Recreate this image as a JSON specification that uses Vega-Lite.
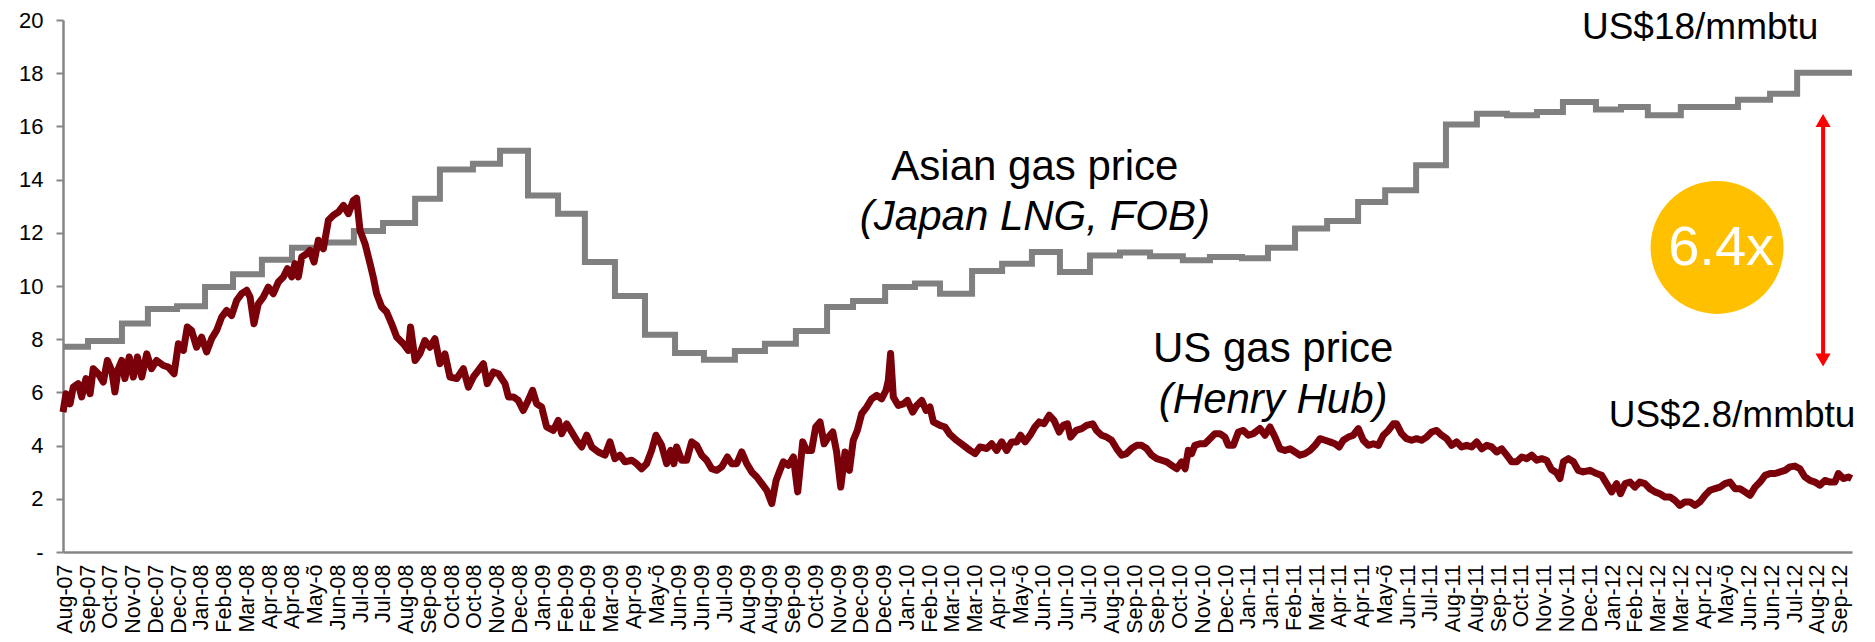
{
  "$schema": "https://vega.github.io/schema/vega-lite/v6.json",
  "width": 1789,
  "height": 532,
  "autosize": {"type": "none"},
  "padding": {"left": 63, "top": 20, "right": 23, "bottom": 90},
  "background": "white",
  "config": {
    "view": {"stroke": null},
    "font": "Liberation Sans",
    "axis": {"grid": false, "title": null, "labelFont": "Liberation Sans", "labelColor": "#000000", "domainColor": "#868686", "tickColor": "#868686"}
  },
  "datasets": {
    "asian": [
      {"t": -0.1, "v": 7.72}, {"t": 1.0, "v": 7.93}, {"t": 2.49, "v": 8.59}, {"t": 3.63, "v": 9.14}, {"t": 4.91, "v": 9.24},
      {"t": 6.14, "v": 9.96}, {"t": 7.37, "v": 10.44}, {"t": 8.64, "v": 10.99}, {"t": 9.96, "v": 11.44}, {"t": 11.32, "v": 11.64},
      {"t": 12.68, "v": 12.07}, {"t": 13.96, "v": 12.37}, {"t": 15.37, "v": 13.28}, {"t": 16.46, "v": 14.38}, {"t": 17.91, "v": 14.6},
      {"t": 19.1, "v": 15.08}, {"t": 20.33, "v": 13.4}, {"t": 21.65, "v": 12.72}, {"t": 22.83, "v": 10.9}, {"t": 24.15, "v": 9.62},
      {"t": 25.47, "v": 8.17}, {"t": 26.79, "v": 7.48}, {"t": 28.06, "v": 7.23}, {"t": 29.42, "v": 7.56}, {"t": 30.74, "v": 7.83},
      {"t": 32.1, "v": 8.31}, {"t": 33.47, "v": 9.21}, {"t": 34.61, "v": 9.44}, {"t": 36.02, "v": 9.96}, {"t": 37.33, "v": 10.09},
      {"t": 38.43, "v": 9.71}, {"t": 39.84, "v": 10.56}, {"t": 41.16, "v": 10.84}, {"t": 42.47, "v": 11.28}, {"t": 43.7, "v": 10.53},
      {"t": 45.02, "v": 11.15}, {"t": 46.34, "v": 11.26}, {"t": 47.66, "v": 11.12}, {"t": 49.1, "v": 10.97}, {"t": 50.29, "v": 11.09},
      {"t": 51.7, "v": 11.04}, {"t": 52.84, "v": 11.44}, {"t": 54.03, "v": 12.16}, {"t": 55.44, "v": 12.44}, {"t": 56.8, "v": 13.16},
      {"t": 57.99, "v": 13.6}, {"t": 59.35, "v": 14.54}, {"t": 60.66, "v": 16.07}, {"t": 62.02, "v": 16.48}, {"t": 63.34, "v": 16.42},
      {"t": 64.66, "v": 16.54}, {"t": 65.8, "v": 16.92}, {"t": 67.25, "v": 16.64}, {"t": 68.35, "v": 16.73}, {"t": 69.53, "v": 16.42},
      {"t": 70.98, "v": 16.73}, {"t": 73.49, "v": 17.0}, {"t": 74.9, "v": 17.23}, {"t": 76.09, "v": 18.02}, {"t": 78.5, "v": 18.02}
    ],
    "us": [
      {"t": -0.1, "v": 5.26}, {"t": 0.03, "v": 5.95}, {"t": 0.21, "v": 5.57}, {"t": 0.35, "v": 6.2}, {"t": 0.57, "v": 6.33},
      {"t": 0.72, "v": 5.83}, {"t": 0.91, "v": 6.52}, {"t": 1.09, "v": 5.95}, {"t": 1.23, "v": 6.89}, {"t": 1.45, "v": 6.7},
      {"t": 1.67, "v": 6.39}, {"t": 1.85, "v": 7.2}, {"t": 2.04, "v": 6.83}, {"t": 2.18, "v": 6.02}, {"t": 2.33, "v": 6.89},
      {"t": 2.48, "v": 7.2}, {"t": 2.62, "v": 6.52}, {"t": 2.81, "v": 7.33}, {"t": 2.99, "v": 6.58}, {"t": 3.17, "v": 7.33},
      {"t": 3.36, "v": 6.58}, {"t": 3.58, "v": 7.45}, {"t": 3.79, "v": 6.89}, {"t": 4.01, "v": 7.2}, {"t": 4.31, "v": 7.01},
      {"t": 4.53, "v": 6.95}, {"t": 4.78, "v": 6.7}, {"t": 4.97, "v": 7.83}, {"t": 5.19, "v": 7.58}, {"t": 5.36, "v": 8.46},
      {"t": 5.55, "v": 8.33}, {"t": 5.77, "v": 7.7}, {"t": 5.99, "v": 8.08}, {"t": 6.21, "v": 7.52}, {"t": 6.43, "v": 8.02},
      {"t": 6.65, "v": 8.33}, {"t": 6.87, "v": 8.83}, {"t": 7.09, "v": 9.08}, {"t": 7.31, "v": 8.89}, {"t": 7.53, "v": 9.46},
      {"t": 7.75, "v": 9.71}, {"t": 7.97, "v": 9.84}, {"t": 8.12, "v": 9.58}, {"t": 8.29, "v": 8.58}, {"t": 8.48, "v": 9.33},
      {"t": 8.7, "v": 9.58}, {"t": 8.92, "v": 9.96}, {"t": 9.14, "v": 9.71}, {"t": 9.36, "v": 10.15}, {"t": 9.58, "v": 10.34},
      {"t": 9.76, "v": 10.65}, {"t": 9.95, "v": 10.34}, {"t": 10.09, "v": 10.84}, {"t": 10.24, "v": 10.34}, {"t": 10.39, "v": 11.09},
      {"t": 10.61, "v": 11.21}, {"t": 10.75, "v": 11.34}, {"t": 10.93, "v": 10.9}, {"t": 11.12, "v": 11.72}, {"t": 11.34, "v": 11.4},
      {"t": 11.56, "v": 12.47}, {"t": 11.78, "v": 12.66}, {"t": 12.0, "v": 12.78}, {"t": 12.22, "v": 13.03}, {"t": 12.44, "v": 12.72},
      {"t": 12.66, "v": 13.22}, {"t": 12.8, "v": 13.3}, {"t": 12.95, "v": 12.09}, {"t": 13.17, "v": 11.59}, {"t": 13.39, "v": 10.84},
      {"t": 13.53, "v": 10.34}, {"t": 13.68, "v": 9.71}, {"t": 13.9, "v": 9.21}, {"t": 14.12, "v": 9.02}, {"t": 14.34, "v": 8.58},
      {"t": 14.56, "v": 8.08}, {"t": 14.85, "v": 7.83}, {"t": 15.07, "v": 7.58}, {"t": 15.17, "v": 8.46}, {"t": 15.37, "v": 7.2},
      {"t": 15.58, "v": 7.45}, {"t": 15.8, "v": 7.95}, {"t": 16.02, "v": 7.7}, {"t": 16.24, "v": 8.02}, {"t": 16.46, "v": 7.08},
      {"t": 16.68, "v": 7.45}, {"t": 16.9, "v": 6.58}, {"t": 17.2, "v": 6.52}, {"t": 17.49, "v": 6.89}, {"t": 17.71, "v": 6.2},
      {"t": 17.93, "v": 6.58}, {"t": 18.15, "v": 6.83}, {"t": 18.37, "v": 7.08}, {"t": 18.54, "v": 6.33}, {"t": 18.81, "v": 6.77},
      {"t": 19.03, "v": 6.7}, {"t": 19.32, "v": 6.33}, {"t": 19.47, "v": 5.83}, {"t": 19.69, "v": 5.83}, {"t": 19.9, "v": 5.7},
      {"t": 20.12, "v": 5.32}, {"t": 20.34, "v": 5.7}, {"t": 20.53, "v": 6.08}, {"t": 20.71, "v": 5.57}, {"t": 20.93, "v": 5.45},
      {"t": 21.15, "v": 4.7}, {"t": 21.44, "v": 4.57}, {"t": 21.66, "v": 4.95}, {"t": 21.81, "v": 4.45}, {"t": 22.03, "v": 4.82},
      {"t": 22.25, "v": 4.51}, {"t": 22.47, "v": 4.2}, {"t": 22.69, "v": 3.95}, {"t": 22.91, "v": 4.39}, {"t": 23.13, "v": 3.95},
      {"t": 23.42, "v": 3.76}, {"t": 23.71, "v": 3.64}, {"t": 23.93, "v": 4.14}, {"t": 24.15, "v": 3.51}, {"t": 24.37, "v": 3.64},
      {"t": 24.59, "v": 3.39}, {"t": 24.88, "v": 3.45}, {"t": 25.1, "v": 3.32}, {"t": 25.32, "v": 3.13}, {"t": 25.54, "v": 3.32},
      {"t": 25.76, "v": 3.82}, {"t": 25.95, "v": 4.39}, {"t": 26.2, "v": 4.01}, {"t": 26.42, "v": 3.32}, {"t": 26.6, "v": 3.82},
      {"t": 26.74, "v": 3.32}, {"t": 26.86, "v": 3.95}, {"t": 27.08, "v": 3.45}, {"t": 27.3, "v": 3.45}, {"t": 27.52, "v": 4.14},
      {"t": 27.74, "v": 4.01}, {"t": 27.96, "v": 3.64}, {"t": 28.18, "v": 3.45}, {"t": 28.4, "v": 3.13}, {"t": 28.62, "v": 3.07},
      {"t": 28.84, "v": 3.2}, {"t": 29.09, "v": 3.57}, {"t": 29.28, "v": 3.32}, {"t": 29.5, "v": 3.32}, {"t": 29.72, "v": 3.76},
      {"t": 29.94, "v": 3.32}, {"t": 30.16, "v": 3.01}, {"t": 30.38, "v": 2.82}, {"t": 30.6, "v": 2.57}, {"t": 30.82, "v": 2.32},
      {"t": 31.04, "v": 1.82}, {"t": 31.23, "v": 2.69}, {"t": 31.4, "v": 3.07}, {"t": 31.55, "v": 3.39}, {"t": 31.77, "v": 3.26},
      {"t": 31.99, "v": 3.57}, {"t": 32.18, "v": 2.26}, {"t": 32.4, "v": 4.14}, {"t": 32.57, "v": 3.82}, {"t": 32.79, "v": 3.82},
      {"t": 32.97, "v": 4.7}, {"t": 33.16, "v": 4.89}, {"t": 33.34, "v": 4.07}, {"t": 33.53, "v": 4.32}, {"t": 33.72, "v": 4.51},
      {"t": 33.89, "v": 3.76}, {"t": 34.07, "v": 2.44}, {"t": 34.26, "v": 3.76}, {"t": 34.45, "v": 3.07}, {"t": 34.62, "v": 4.2},
      {"t": 34.8, "v": 4.57}, {"t": 34.99, "v": 5.2}, {"t": 35.21, "v": 5.45}, {"t": 35.43, "v": 5.76}, {"t": 35.65, "v": 5.89},
      {"t": 35.87, "v": 5.76}, {"t": 36.06, "v": 6.08}, {"t": 36.16, "v": 6.45}, {"t": 36.26, "v": 7.46}, {"t": 36.38, "v": 5.83},
      {"t": 36.6, "v": 5.51}, {"t": 36.82, "v": 5.57}, {"t": 37.0, "v": 5.7}, {"t": 37.23, "v": 5.26}, {"t": 37.41, "v": 5.51},
      {"t": 37.63, "v": 5.7}, {"t": 37.82, "v": 5.32}, {"t": 37.99, "v": 5.45}, {"t": 38.14, "v": 4.89}, {"t": 38.43, "v": 4.76},
      {"t": 38.65, "v": 4.7}, {"t": 38.87, "v": 4.42}, {"t": 39.16, "v": 4.2}, {"t": 39.46, "v": 4.01}, {"t": 39.75, "v": 3.82},
      {"t": 39.97, "v": 3.7}, {"t": 40.19, "v": 3.95}, {"t": 40.48, "v": 3.89}, {"t": 40.7, "v": 4.07}, {"t": 40.92, "v": 3.82},
      {"t": 41.14, "v": 4.14}, {"t": 41.36, "v": 3.82}, {"t": 41.58, "v": 4.14}, {"t": 41.8, "v": 4.14}, {"t": 41.97, "v": 4.39},
      {"t": 42.17, "v": 4.14}, {"t": 42.39, "v": 4.39}, {"t": 42.6, "v": 4.7}, {"t": 42.79, "v": 4.89}, {"t": 43.0, "v": 4.82},
      {"t": 43.23, "v": 5.14}, {"t": 43.44, "v": 4.95}, {"t": 43.67, "v": 4.51}, {"t": 43.85, "v": 4.76}, {"t": 44.03, "v": 4.82},
      {"t": 44.17, "v": 4.32}, {"t": 44.41, "v": 4.57}, {"t": 44.66, "v": 4.64}, {"t": 44.87, "v": 4.76}, {"t": 45.14, "v": 4.82},
      {"t": 45.31, "v": 4.57}, {"t": 45.53, "v": 4.39}, {"t": 45.75, "v": 4.32}, {"t": 45.97, "v": 4.2}, {"t": 46.19, "v": 3.89},
      {"t": 46.41, "v": 3.64}, {"t": 46.63, "v": 3.7}, {"t": 46.85, "v": 3.89}, {"t": 47.07, "v": 4.01}, {"t": 47.29, "v": 4.01},
      {"t": 47.51, "v": 3.89}, {"t": 47.73, "v": 3.64}, {"t": 47.95, "v": 3.51}, {"t": 48.17, "v": 3.45}, {"t": 48.39, "v": 3.39},
      {"t": 48.61, "v": 3.26}, {"t": 48.83, "v": 3.13}, {"t": 49.05, "v": 3.39}, {"t": 49.2, "v": 3.13}, {"t": 49.34, "v": 3.82},
      {"t": 49.49, "v": 3.7}, {"t": 49.63, "v": 4.01}, {"t": 49.85, "v": 4.07}, {"t": 50.07, "v": 4.07}, {"t": 50.29, "v": 4.26},
      {"t": 50.51, "v": 4.45}, {"t": 50.73, "v": 4.45}, {"t": 50.95, "v": 4.32}, {"t": 51.1, "v": 4.01}, {"t": 51.32, "v": 4.01},
      {"t": 51.54, "v": 4.51}, {"t": 51.76, "v": 4.57}, {"t": 51.98, "v": 4.39}, {"t": 52.2, "v": 4.45}, {"t": 52.49, "v": 4.64},
      {"t": 52.71, "v": 4.39}, {"t": 52.93, "v": 4.7}, {"t": 53.15, "v": 4.32}, {"t": 53.37, "v": 3.88}, {"t": 53.59, "v": 3.82},
      {"t": 53.81, "v": 3.88}, {"t": 54.03, "v": 3.76}, {"t": 54.25, "v": 3.64}, {"t": 54.47, "v": 3.7}, {"t": 54.69, "v": 3.82},
      {"t": 54.91, "v": 4.01}, {"t": 55.13, "v": 4.26}, {"t": 55.35, "v": 4.2}, {"t": 55.56, "v": 4.14}, {"t": 55.78, "v": 4.07},
      {"t": 55.97, "v": 3.95}, {"t": 56.15, "v": 4.2}, {"t": 56.37, "v": 4.32}, {"t": 56.59, "v": 4.39}, {"t": 56.81, "v": 4.64},
      {"t": 57.03, "v": 4.2}, {"t": 57.25, "v": 4.01}, {"t": 57.47, "v": 4.07}, {"t": 57.69, "v": 4.01}, {"t": 57.91, "v": 4.39},
      {"t": 58.13, "v": 4.57}, {"t": 58.35, "v": 4.82}, {"t": 58.49, "v": 4.82}, {"t": 58.71, "v": 4.45}, {"t": 58.93, "v": 4.26},
      {"t": 59.15, "v": 4.2}, {"t": 59.37, "v": 4.26}, {"t": 59.59, "v": 4.2}, {"t": 59.81, "v": 4.32}, {"t": 60.03, "v": 4.51},
      {"t": 60.25, "v": 4.57}, {"t": 60.47, "v": 4.39}, {"t": 60.69, "v": 4.26}, {"t": 60.91, "v": 4.01}, {"t": 61.13, "v": 4.14},
      {"t": 61.35, "v": 3.95}, {"t": 61.57, "v": 4.01}, {"t": 61.79, "v": 3.95}, {"t": 62.01, "v": 4.14}, {"t": 62.23, "v": 3.88},
      {"t": 62.45, "v": 4.01}, {"t": 62.67, "v": 3.95}, {"t": 62.89, "v": 3.76}, {"t": 63.11, "v": 3.88}, {"t": 63.33, "v": 3.64},
      {"t": 63.55, "v": 3.39}, {"t": 63.77, "v": 3.39}, {"t": 63.99, "v": 3.57}, {"t": 64.21, "v": 3.51}, {"t": 64.43, "v": 3.64},
      {"t": 64.65, "v": 3.45}, {"t": 64.87, "v": 3.51}, {"t": 65.08, "v": 3.45}, {"t": 65.3, "v": 3.1}, {"t": 65.52, "v": 2.98},
      {"t": 65.67, "v": 2.76}, {"t": 65.82, "v": 3.39}, {"t": 66.04, "v": 3.51}, {"t": 66.26, "v": 3.39}, {"t": 66.47, "v": 3.07},
      {"t": 66.69, "v": 3.01}, {"t": 66.99, "v": 3.07}, {"t": 67.28, "v": 2.95}, {"t": 67.5, "v": 2.88}, {"t": 67.72, "v": 2.57},
      {"t": 67.94, "v": 2.26}, {"t": 68.16, "v": 2.57}, {"t": 68.33, "v": 2.19}, {"t": 68.53, "v": 2.57}, {"t": 68.75, "v": 2.63},
      {"t": 68.96, "v": 2.44}, {"t": 69.18, "v": 2.63}, {"t": 69.4, "v": 2.57}, {"t": 69.62, "v": 2.38}, {"t": 69.84, "v": 2.26},
      {"t": 70.06, "v": 2.19}, {"t": 70.28, "v": 2.07}, {"t": 70.5, "v": 2.07}, {"t": 70.72, "v": 1.94}, {"t": 70.94, "v": 1.75},
      {"t": 71.16, "v": 1.88}, {"t": 71.38, "v": 1.88}, {"t": 71.6, "v": 1.75}, {"t": 71.82, "v": 1.88}, {"t": 72.04, "v": 2.13},
      {"t": 72.26, "v": 2.32}, {"t": 72.48, "v": 2.38}, {"t": 72.7, "v": 2.44}, {"t": 72.92, "v": 2.57}, {"t": 73.14, "v": 2.63},
      {"t": 73.36, "v": 2.38}, {"t": 73.58, "v": 2.38}, {"t": 73.8, "v": 2.26}, {"t": 74.02, "v": 2.13}, {"t": 74.24, "v": 2.44},
      {"t": 74.46, "v": 2.63}, {"t": 74.68, "v": 2.88}, {"t": 74.9, "v": 2.95}, {"t": 75.12, "v": 2.95}, {"t": 75.34, "v": 3.01},
      {"t": 75.56, "v": 3.07}, {"t": 75.77, "v": 3.2}, {"t": 75.99, "v": 3.23}, {"t": 76.21, "v": 3.13}, {"t": 76.43, "v": 2.82},
      {"t": 76.65, "v": 2.69}, {"t": 76.87, "v": 2.63}, {"t": 77.09, "v": 2.51}, {"t": 77.31, "v": 2.69}, {"t": 77.53, "v": 2.63},
      {"t": 77.75, "v": 2.63}, {"t": 77.9, "v": 2.95}, {"t": 78.12, "v": 2.76}, {"t": 78.34, "v": 2.82}, {"t": 78.48, "v": 2.76}
    ]
  },
  "encoding": {
    "x": {
      "field": "t", "type": "quantitative",
      "scale": {"domain": [-0.1, 78.5], "nice": false, "zero": false},
      "axis": {
        "title": null,
        "values": [0,1,2,3,4,5,6,7,8,9,10,11,12,13,14,15,16,17,18,19,20,21,22,23,24,25,26,27,28,29,30,31,32,33,34,35,36,37,38,39,40,41,42,43,44,45,46,47,48,49,50,51,52,53,54,55,56,57,58,59,60,61,62,63,64,65,66,67,68,69,70,71,72,73,74,75,76,77,78],
        "labelExpr": "['Aug-07','Sep-07','Oct-07','Nov-07','Dec-07','Dec-07','Jan-08','Feb-08','Mar-08','Apr-08','Apr-08','May-õ','Jun-08','Jul-08','Jul-08','Aug-08','Sep-08','Oct-08','Oct-08','Nov-08','Dec-08','Jan-09','Feb-09','Feb-09','Mar-09','Apr-09','May-õ','Jun-09','Jun-09','Jul-09','Aug-09','Aug-09','Sep-09','Oct-09','Nov-09','Dec-09','Dec-09','Jan-10','Feb-10','Mar-10','Mar-10','Apr-10','May-õ','Jun-10','Jun-10','Jul-10','Aug-10','Sep-10','Sep-10','Oct-10','Nov-10','Dec-10','Jan-11','Jan-11','Feb-11','Mar-11','Apr-11','Apr-11','May-õ','Jun-11','Jul-11','Aug-11','Aug-11','Sep-11','Oct-11','Nov-11','Nov-11','Dec-11','Jan-12','Feb-12','Mar-12','Mar-12','Apr-12','May-õ','Jun-12','Jun-12','Jul-12','Aug-12','Sep-12'][datum.value]",
        "labelAngle": -90,
        "labelAlign": "right",
        "labelBaseline": "middle",
        "labelFontSize": 21.5,
        "labelPadding": 12,
        "labelOverlap": false,
        "labelFlush": false,
        "labelBound": false,
        "ticks": false,
        "domainWidth": 2.5
      }
    },
    "y": {
      "field": "v", "type": "quantitative",
      "scale": {"domain": [0, 20], "nice": false, "zero": true},
      "axis": {
        "title": null,
        "values": [0,2,4,6,8,10,12,14,16,18,20],
        "labelExpr": "datum.value == 0 ? '-' : datum.label",
        "labelFontSize": 22,
        "labelPadding": 13,
        "tickSize": 7,
        "tickWidth": 2,
        "domainWidth": 2.5
      }
    }
  },
  "layer": [
    {
      "data": {"name": "asian"},
      "mark": {"type": "line", "interpolate": "step-after", "stroke": "#808080", "strokeWidth": 6, "strokeJoin": "miter"}
    },
    {
      "data": {"name": "us"},
      "mark": {"type": "line", "stroke": "#7a0009", "strokeWidth": 7, "strokeJoin": "round"}
    },
    {
      "data": {"values": [{"t": 72.57, "v": 11.45}]},
      "mark": {"type": "point", "shape": "circle", "filled": true, "color": "#FFC000", "opacity": 1, "size": 17671}
    },
    {
      "data": {"values": [{"t": 77.23, "v": 7.3, "v2": 16.2}]},
      "mark": {"type": "rule", "color": "#FF0000", "strokeWidth": 4},
      "encoding": {"y2": {"field": "v2"}}
    },
    {
      "data": {"values": [{"t": 77.23, "v": 16.22}]},
      "mark": {"type": "point", "shape": "triangle-up", "filled": true, "color": "#FF0000", "opacity": 1, "size": 230}
    },
    {
      "data": {"values": [{"t": 77.23, "v": 7.22}]},
      "mark": {"type": "point", "shape": "triangle-down", "filled": true, "color": "#FF0000", "opacity": 1, "size": 230}
    },
    {
      "data": {"values": [{"t": 42.6, "v": 13.97, "label": "Asian gas price"}, {"t": 53.07, "v": 7.13, "label": "US gas price"}]},
      "mark": {"type": "text", "font": "Liberation Sans", "fontSize": 42, "color": "#000000", "align": "center", "baseline": "alphabetic"},
      "encoding": {"text": {"field": "label"}}
    },
    {
      "data": {"values": [{"t": 42.6, "v": 12.09, "label": "(Japan LNG, FOB)"}, {"t": 53.07, "v": 5.21, "label": "(Henry Hub)"}]},
      "mark": {"type": "text", "font": "Liberation Sans", "fontSize": 42, "fontStyle": "italic", "color": "#000000", "align": "center", "baseline": "alphabetic"},
      "encoding": {"text": {"field": "label"}}
    },
    {
      "data": {"values": [{"t": 71.83, "v": 19.29, "label": "US$18/mmbtu"}, {"t": 73.23, "v": 4.69, "label": "US$2.8/mmbtu"}]},
      "mark": {"type": "text", "font": "Liberation Sans", "fontSize": 37, "color": "#000000", "align": "center", "baseline": "alphabetic"},
      "encoding": {"text": {"field": "label"}}
    },
    {
      "data": {"values": [{"t": 72.75, "v": 10.8, "label": "6.4x"}]},
      "mark": {"type": "text", "font": "Liberation Sans", "fontSize": 56, "color": "#FFFFFF", "align": "center", "baseline": "alphabetic"},
      "encoding": {"text": {"field": "label"}}
    }
  ]
}
